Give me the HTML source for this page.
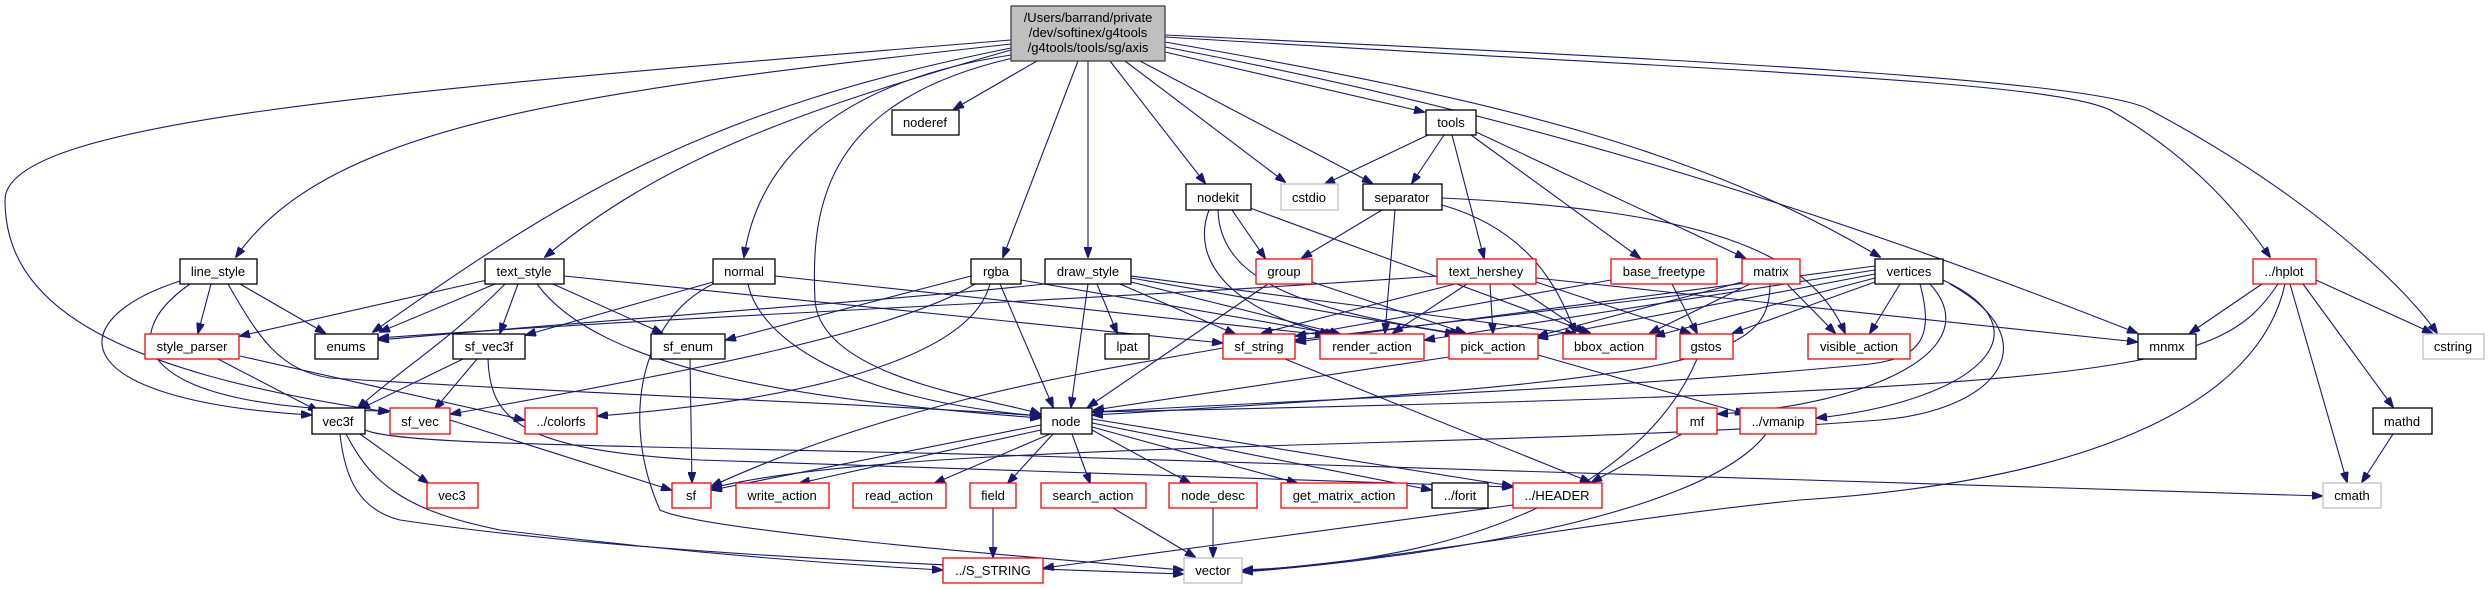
<!DOCTYPE html>
<html><head><meta charset="utf-8"><style>
html,body{margin:0;padding:0;background:#fff;}
svg{display:block;}
text{font-family:"Liberation Sans",Arial,sans-serif;font-size:13px;fill:#000;text-anchor:middle;}
.e{fill:none;stroke:#191970;stroke-width:1.1;marker-end:url(#a);}
.b{fill:#fff;stroke:#000;stroke-width:1.3;}
.r{fill:#fff;stroke:#ff0000;stroke-width:1.3;}
.g{fill:#fff;stroke:#bfbfbf;stroke-width:1.3;}
</style></head><body>
<svg width="2491" height="589" viewBox="0 0 2491 589" xmlns="http://www.w3.org/2000/svg">
<defs><marker id="a" markerWidth="11" markerHeight="8" refX="10" refY="4" orient="auto" markerUnits="userSpaceOnUse"><path d="M0,0 L11,4 L0,8 z" fill="#191970" stroke="#191970"/></marker></defs>
<g>
<!-- root edges -->
<path class="e" d="M1011,44 C600,90 330,120 236,257"/>
<path class="e" d="M1011,48 C700,110 560,200 373,332"/>
<path class="e" d="M1011,50 C800,110 660,160 545,257"/>
<path class="e" d="M1011,40 C400,90 5,120 5,200 C5,300 100,370 388,412"/>
<path class="e" d="M1011,55 C850,80 760,150 744,257"/>
<path class="e" d="M1013,58 C830,100 810,200 815,300 C820,380 1000,400 1040,414"/>
<path class="e" d="M1037,61 L954,109"/>
<path class="e" d="M1078,61 L1003,257"/>
<path class="e" d="M1088,61 L1088,257"/>
<path class="e" d="M1110,61 L1205,183"/>
<path class="e" d="M1125,61 L1285,182"/>
<path class="e" d="M1140,61 L1372,183"/>
<path class="e" d="M1165,52 L1424,112"/>
<path class="e" d="M1165,42 C1500,100 1700,150 1880,257"/>
<path class="e" d="M1165,47 C1500,110 1800,200 2137,333"/>
<path class="e" d="M1165,37 C1700,70 2050,80 2110,110 C2180,150 2230,200 2270,257"/>
<path class="e" d="M1165,35 C1700,60 2100,80 2150,110 C2300,190 2400,280 2437,333"/>
<!-- line_style -->
<path class="e" d="M211,284 L198,333"/>
<path class="e" d="M240,284 L325,333"/>
<path class="e" d="M180,281 C60,320 60,400 311,415"/>
<path class="e" d="M190,284 C110,340 140,410 389,411"/>
<path class="e" d="M228,284 C260,340 280,370 330,378 C600,395 900,405 1040,416"/>
<!-- text_style -->
<path class="e" d="M487,280 L240,336"/>
<path class="e" d="M495,284 L380,332"/>
<path class="e" d="M505,284 C450,340 400,370 358,408"/>
<path class="e" d="M518,284 L500,333"/>
<path class="e" d="M553,284 L662,333"/>
<path class="e" d="M537,284 C600,370 800,400 1040,418"/>
<path class="e" d="M564,276 L1222,343"/>
<!-- normal -->
<path class="e" d="M713,282 L526,335"/>
<path class="e" d="M748,284 C760,340 850,400 1040,416"/>
<path class="e" d="M713,284 C640,320 620,420 660,510 C700,530 1000,555 1183,570"/>
<path class="e" d="M775,276 L1325,335"/>
<!-- rgba -->
<path class="e" d="M1000,284 L1053,407"/>
<path class="e" d="M975,284 C900,330 700,370 451,414"/>
<path class="e" d="M990,284 C970,360 800,400 598,416"/>
<path class="e" d="M1021,280 L1335,334"/>
<path class="e" d="M971,276 C880,300 800,320 726,340"/>
<!-- draw_style -->
<path class="e" d="M1088,284 L1071,407"/>
<path class="e" d="M1097,284 L1117,333"/>
<path class="e" d="M1045,284 C900,300 600,320 379,340"/>
<path class="e" d="M1131,282 L1340,334"/>
<path class="e" d="M1131,278 L1455,334"/>
<path class="e" d="M1131,276 L1575,334"/>
<path class="e" d="M1120,284 L1235,334"/>
<!-- group, nodekit, separator, tools -->
<path class="e" d="M1268,284 L1088,407"/>
<path class="e" d="M1312,282 L1465,333"/>
<path class="e" d="M1232,210 L1265,258"/>
<path class="e" d="M1209,210 C1190,260 1230,310 1330,334"/>
<path class="e" d="M1218,210 C1220,280 1300,310 1460,334"/>
<path class="e" d="M1250,208 L1590,333"/>
<path class="e" d="M1382,210 L1302,258"/>
<path class="e" d="M1395,210 L1385,333"/>
<path class="e" d="M1442,205 C1530,230 1560,290 1575,333"/>
<path class="e" d="M1442,198 C1700,210 1810,250 1845,333"/>
<path class="e" d="M1428,135 L1325,184"/>
<path class="e" d="M1444,135 L1412,183"/>
<path class="e" d="M1452,135 L1484,258"/>
<path class="e" d="M1471,135 L1640,258"/>
<path class="e" d="M1476,132 L1745,258"/>
<!-- text_hershey -->
<path class="e" d="M1437,276 C1100,300 700,315 379,338"/>
<path class="e" d="M1455,284 L1262,333"/>
<path class="e" d="M1467,284 L1393,333"/>
<path class="e" d="M1490,284 L1493,333"/>
<path class="e" d="M1512,284 L1585,333"/>
<path class="e" d="M1536,282 L1690,333"/>
<path class="e" d="M1536,278 L2137,342"/>
<!-- base_freetype, matrix -->
<path class="e" d="M1672,284 L1697,333"/>
<path class="e" d="M1611,280 L1296,336"/>
<path class="e" d="M1787,284 L1835,333"/>
<path class="e" d="M1770,284 C1770,360 1700,380 1093,415"/>
<path class="e" d="M1742,282 L1538,336"/>
<path class="e" d="M1750,284 L1650,333"/>
<path class="e" d="M1742,288 L1296,340"/>
<!-- vertices -->
<path class="e" d="M1900,284 L1870,333"/>
<path class="e" d="M1875,282 L1733,333"/>
<path class="e" d="M1875,278 L1655,336"/>
<path class="e" d="M1875,274 L1538,338"/>
<path class="e" d="M1875,270 L1425,340"/>
<path class="e" d="M1875,266 L1296,342"/>
<path class="e" d="M1920,284 C1935,340 1920,360 1860,365 C1600,390 1300,400 1093,412"/>
<path class="e" d="M1930,284 C1990,350 1870,405 1718,414"/>
<path class="e" d="M1943,280 C2050,330 1980,400 1817,418"/>
<path class="e" d="M1950,284 C2050,340 2000,410 1880,420 C1500,450 900,440 712,488"/>
<!-- hplot -->
<path class="e" d="M2262,284 L2190,333"/>
<path class="e" d="M2316,280 L2432,333"/>
<path class="e" d="M2303,284 L2393,407"/>
<path class="e" d="M2290,284 L2347,482"/>
<path class="e" d="M2278,284 C2220,370 2150,390 1093,412"/>
<path class="e" d="M2285,284 C2260,400 2100,480 1800,500 C1600,520 1400,560 1243,571"/>
<path class="e" d="M2393,434 L2362,482"/>
<!-- mid -->
<path class="e" d="M1223,348 C1100,370 900,400 712,486"/>
<path class="e" d="M1285,359 L1590,482"/>
<path class="e" d="M1449,357 L1094,410"/>
<path class="e" d="M1538,355 L1745,414"/>
<path class="e" d="M1697,359 C1650,470 1500,560 1243,570"/>
<path class="e" d="M1682,434 L1592,482"/>
<path class="e" d="M1766,434 C1700,520 1400,560 1243,572"/>
<path class="e" d="M690,359 L692,482"/>
<path class="e" d="M218,359 L318,411"/>
<path class="e" d="M240,356 L524,420"/>
<path class="e" d="M463,359 L360,409"/>
<path class="e" d="M477,359 L435,409"/>
<path class="e" d="M488,359 C490,420 520,450 700,460 C1000,470 1300,480 1512,487"/>
<path class="e" d="M450,420 L671,490"/>
<!-- vec3f -->
<path class="e" d="M360,434 L428,483"/>
<path class="e" d="M340,434 C345,480 360,510 400,520 C600,550 900,565 1183,574"/>
<path class="e" d="M346,434 C370,480 400,510 500,530 C700,555 850,565 942,570"/>
<path class="e" d="M365,430 C400,445 600,445 1000,455 C1500,470 2000,485 2322,496"/>
<!-- node -->
<path class="e" d="M1041,425 L712,490"/>
<path class="e" d="M1041,430 L800,483"/>
<path class="e" d="M1050,434 L935,483"/>
<path class="e" d="M1053,434 L1008,483"/>
<path class="e" d="M1072,434 L1090,483"/>
<path class="e" d="M1092,430 L1190,483"/>
<path class="e" d="M1092,427 L1297,483"/>
<path class="e" d="M1092,423 L1431,490"/>
<path class="e" d="M1092,419 L1512,486"/>
<path class="e" d="M993,508 L993,557"/>
<path class="e" d="M1113,508 L1195,557"/>
<path class="e" d="M1213,508 L1213,557"/>
<path class="e" d="M1513,505 L1044,568"/>
</g>
<!-- nodes -->
<rect x="1011" y="6" width="154" height="55" fill="#bfbfbf" stroke="#404040" stroke-width="1.3"/>
<text x="1088" y="22">/Users/barrand/private</text>
<text x="1088" y="37">/dev/softinex/g4tools</text>
<text x="1088" y="52">/g4tools/tools/sg/axis</text>

<rect class="b" x="892" y="110" width="67" height="25"/><text x="925" y="127">noderef</text>
<rect class="b" x="1426" y="110" width="50" height="25"/><text x="1451" y="127">tools</text>
<rect class="b" x="1186" y="184" width="65" height="26"/><text x="1218" y="202">nodekit</text>
<rect class="g" x="1281" y="184" width="57" height="26"/><text x="1309" y="202">cstdio</text>
<rect class="b" x="1363" y="184" width="79" height="26"/><text x="1402" y="202">separator</text>

<rect class="b" x="180" y="259" width="77" height="25"/><text x="218" y="276">line_style</text>
<rect class="b" x="485" y="259" width="79" height="25"/><text x="524" y="276">text_style</text>
<rect class="b" x="713" y="259" width="62" height="25"/><text x="744" y="276">normal</text>
<rect class="b" x="971" y="259" width="50" height="25"/><text x="996" y="276">rgba</text>
<rect class="b" x="1045" y="259" width="86" height="25"/><text x="1088" y="276">draw_style</text>
<rect class="r" x="1256" y="259" width="56" height="25"/><text x="1284" y="276">group</text>
<rect class="r" x="1437" y="259" width="99" height="25"/><text x="1486" y="276">text_hershey</text>
<rect class="r" x="1611" y="259" width="106" height="25"/><text x="1664" y="276">base_freetype</text>
<rect class="r" x="1742" y="259" width="58" height="25"/><text x="1771" y="276">matrix</text>
<rect class="b" x="1875" y="259" width="68" height="25"/><text x="1909" y="276">vertices</text>
<rect class="r" x="2253" y="259" width="63" height="25"/><text x="2284" y="276">../hplot</text>

<rect class="r" x="145" y="334" width="94" height="25"/><text x="192" y="351">style_parser</text>
<rect class="b" x="315" y="334" width="63" height="25"/><text x="346" y="351">enums</text>
<rect class="b" x="453" y="334" width="72" height="25"/><text x="489" y="351">sf_vec3f</text>
<rect class="b" x="651" y="334" width="74" height="25"/><text x="688" y="351">sf_enum</text>
<rect class="b" x="1105" y="334" width="44" height="25"/><text x="1127" y="351">lpat</text>
<rect class="r" x="1223" y="334" width="72" height="25"/><text x="1259" y="351">sf_string</text>
<rect class="r" x="1320" y="334" width="104" height="25"/><text x="1372" y="351">render_action</text>
<rect class="r" x="1449" y="334" width="89" height="25"/><text x="1493" y="351">pick_action</text>
<rect class="r" x="1563" y="334" width="93" height="25"/><text x="1609" y="351">bbox_action</text>
<rect class="r" x="1680" y="334" width="53" height="25"/><text x="1706" y="351">gstos</text>
<rect class="r" x="1808" y="334" width="102" height="25"/><text x="1859" y="351">visible_action</text>
<rect class="b" x="2138" y="334" width="58" height="25"/><text x="2167" y="351">mnmx</text>
<rect class="g" x="2423" y="334" width="61" height="25"/><text x="2453" y="351">cstring</text>

<rect class="b" x="312" y="408" width="53" height="26"/><text x="338" y="426">vec3f</text>
<rect class="r" x="390" y="408" width="60" height="26"/><text x="420" y="426">sf_vec</text>
<rect class="r" x="525" y="408" width="72" height="26"/><text x="561" y="426">../colorfs</text>
<rect class="b" x="1041" y="408" width="51" height="26"/><text x="1066" y="426">node</text>
<rect class="r" x="1677" y="408" width="40" height="26"/><text x="1697" y="426">mf</text>
<rect class="r" x="1740" y="408" width="76" height="26"/><text x="1778" y="426">../vmanip</text>
<rect class="b" x="2373" y="408" width="59" height="26"/><text x="2402" y="426">mathd</text>

<rect class="r" x="427" y="483" width="51" height="25"/><text x="452" y="500">vec3</text>
<rect class="r" x="672" y="483" width="39" height="25"/><text x="691" y="500">sf</text>
<rect class="r" x="736" y="483" width="93" height="25"/><text x="782" y="500">write_action</text>
<rect class="r" x="853" y="483" width="93" height="25"/><text x="899" y="500">read_action</text>
<rect class="r" x="970" y="483" width="46" height="25"/><text x="993" y="500">field</text>
<rect class="r" x="1041" y="483" width="105" height="25"/><text x="1093" y="500">search_action</text>
<rect class="r" x="1169" y="483" width="88" height="25"/><text x="1213" y="500">node_desc</text>
<rect class="r" x="1281" y="483" width="126" height="25"/><text x="1344" y="500">get_matrix_action</text>
<rect class="b" x="1432" y="483" width="56" height="25"/><text x="1460" y="500">../forit</text>
<rect class="r" x="1513" y="483" width="89" height="25"/><text x="1557" y="500">../HEADER</text>
<rect class="g" x="2323" y="483" width="58" height="25"/><text x="2352" y="500">cmath</text>

<rect class="r" x="943" y="558" width="100" height="25"/><text x="993" y="575">../S_STRING</text>
<rect class="g" x="1184" y="558" width="58" height="25"/><text x="1213" y="575">vector</text>
</svg>
</body></html>
